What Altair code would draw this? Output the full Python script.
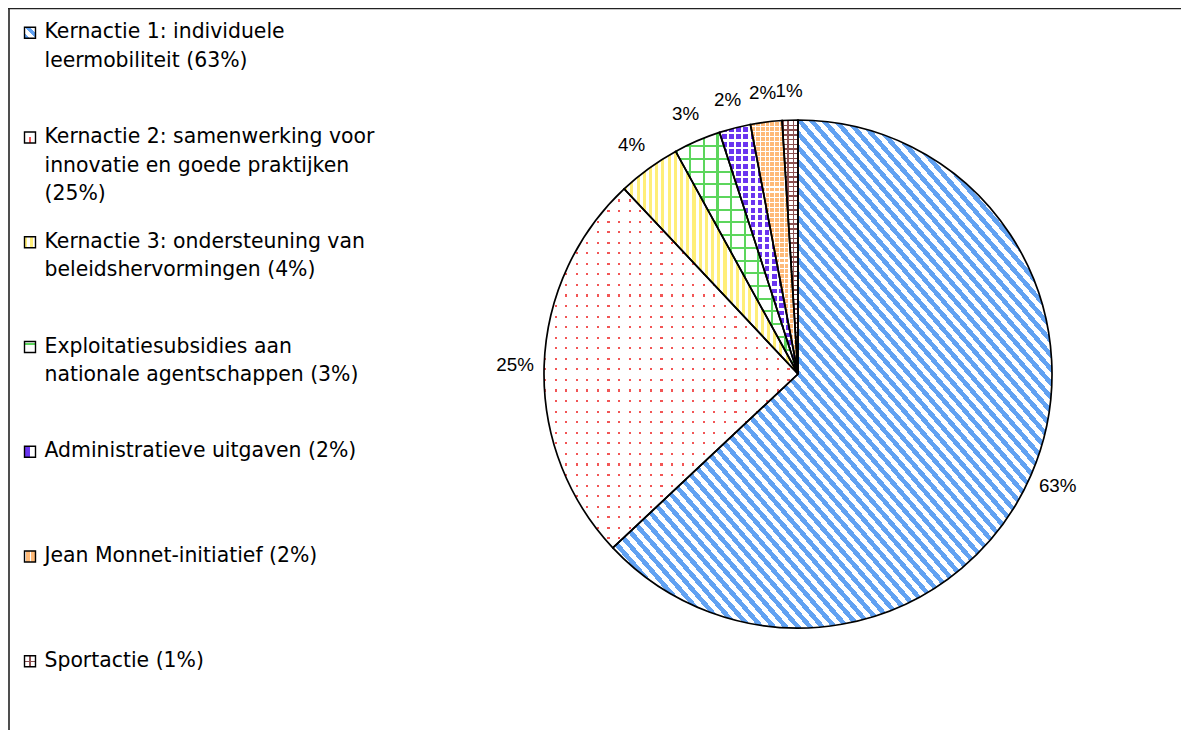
import altair as alt
import pandas as pd

# ---- data ----
keys = ["k1", "k2", "k3", "ex", "adm", "jm", "sp"]
shares = [63, 25, 4, 3, 2, 2, 1]
slice_labels = ["63%", "25%", "4%", "3%", "2%", "2%", "1%"]
legend_labels = [
    "Kernactie 1: individuele\nleermobiliteit (63%)",
    "Kernactie 2: samenwerking voor\ninnovatie en goede praktijken\n(25%)",
    "Kernactie 3: ondersteuning van\nbeleidshervormingen (4%)",
    "Exploitatiesubsidies aan\nnationale agentschappen (3%)",
    "Administratieve uitgaven (2%)",
    "Jean Monnet-initiatief (2%)",
    "Sportactie (1%)",
]
order = list(range(len(keys)))

df = pd.DataFrame({"key": keys, "share": shares, "label": slice_labels,
                   "legend": legend_labels, "ord": order})

# ---- pattern helpers (linear gradients with hard stops) ----
T = "rgba(255,255,255,0)"
VEC = {"v": (0, 0, 1, 0), "h": (0, 0, 0, 1), "d": (0, 0, 1, 1), "b": (0, 1, 1, 0)}


def stripes(on, off, n, frac, d):
    x1, y1, x2, y2 = VEC[d]
    stops = []
    for k in range(n):
        a, b, c = k / n, (k + frac) / n, (k + 1) / n
        stops += [{"offset": round(a, 5), "color": on}, {"offset": round(b, 5), "color": on},
                  {"offset": round(b, 5), "color": off}, {"offset": round(c, 5), "color": off}]
    return {"gradient": "linear", "x1": x1, "y1": y1, "x2": x2, "y2": y2, "stops": stops}


def band(color, start, end, d, bg=T):
    x1, y1, x2, y2 = VEC[d]
    stops = [{"offset": 0, "color": bg}, {"offset": start, "color": bg},
             {"offset": start, "color": color}, {"offset": end, "color": color},
             {"offset": end, "color": bg}, {"offset": 1, "color": bg}]
    return {"gradient": "linear", "x1": x1, "y1": y1, "x2": x2, "y2": y2, "stops": stops}


BLUE, RED, YEL, GRN, PUR, ORA, BRN = "#62a2f2", "#f25555", "#ffee78", "#5cd65c", "#6a35f0", "#ffba78", "#8a4f4f"

pie_specs = {
    "k1": [stripes(BLUE, "white", 72, 0.5, "b")],
    "k2": [stripes(RED, "white", 24, 0.2, "v"), stripes(T, "white", 34, 0.2, "h")],
    "k3": [stripes(YEL, "white", 28, 0.5, "v")],
    "ex": ["white", stripes(GRN, T, 9, 0.16, "v"), stripes(GRN, T, 19, 0.16, "h")],
    "adm": [PUR, stripes("white", T, 11, 0.35, "v"), stripes("white", T, 34, 0.35, "h")],
    "jm": [ORA, stripes("white", T, 10, 0.22, "v"), stripes("white", T, 50, 0.22, "h")],
    "sp": ["white", stripes(BRN, T, 3, 0.3, "v"), stripes(BRN, T, 54, 0.3, "h")],
}
legend_specs = {
    "k1": [stripes(BLUE, "white", 2, 0.5, "b")],
    "k2": ["white", band(RED, 0.45, 0.6, "v"), band("white", 0.0, 0.45, "h")],
    "k3": [stripes(YEL, "white", 2, 0.5, "v")],
    "ex": [band(GRN, 0.1, 0.3, "h", "white")],
    "adm": [stripes(PUR, "white", 1, 0.5, "v")],
    "jm": [ORA, stripes("white", T, 2, 0.2, "v")],
    "sp": ["white", band(BRN, 0.45, 0.6, "v"), band(BRN, 0.45, 0.6, "h")],
}


def fill_enc(specs, i):
    conds = []
    for k in keys:
        if i < len(specs[k]):
            conds.append({"test": f"datum.key === '{k}'", "value": specs[k][i]})
    return alt.FillValue(value=T, condition=conds)


CX, CY, R = 790, 366, 254

base = alt.Chart(df).encode(
    theta=alt.Theta("share:Q", stack=True),
    order=alt.Order("ord:Q", sort="ascending"),
    detail="key:N",
    x=alt.value(CX),
    y=alt.value(CY),
)

pie_layers = [base.mark_arc(radius=R).encode(fill=fill_enc(pie_specs, i)) for i in range(3)]
outline = base.mark_arc(radius=R, fill="white", fillOpacity=0, stroke="black", strokeWidth=1.7)
labels = base.mark_text(radius=283, font="Liberation Sans", fontSize=18.8, color="black",
                        align="center", baseline="middle").encode(text="label:N")

yleg = alt.Y("ord:Q", scale=alt.Scale(domain=[0, 6], range=[30.3, 658.7]), axis=None)
leg = alt.Chart(df).encode(y=yleg)
sym_layers = [leg.mark_square(size=121, yOffset=-5.5, opacity=1).encode(
    x=alt.value(22), fill=fill_enc(legend_specs, i)) for i in range(3)]
sym_outline = leg.mark_square(size=121, yOffset=-5.5, fill="white", fillOpacity=0,
                              stroke="black", strokeWidth=1.4).encode(x=alt.value(22))
leg_text = leg.mark_text(align="left", baseline="alphabetic", font="DejaVu Sans", fontSize=20.4,
                         lineBreak="\n", lineHeight=28.5, color="black").encode(
    x=alt.value(36.5), text="legend:N")

frame_df = pd.DataFrame({"a": [0]})
left_rule = alt.Chart(frame_df).mark_rule(color="#222", strokeWidth=1.6).encode(
    x=alt.value(1), y=alt.value(0), y2=alt.value(722))
top_rule = alt.Chart(frame_df).mark_rule(color="#222", strokeWidth=1.6).encode(
    y=alt.value(0.5), x=alt.value(0), x2=alt.value(1173))

chart = alt.layer(
    *pie_layers, outline, labels, *sym_layers, sym_outline, leg_text, left_rule, top_rule
).properties(width=1173, height=722, padding=0, autosize="none").configure_view(
    stroke="transparent")

chart.save("out.html", embed_options={"renderer": "svg", "actions": False})
